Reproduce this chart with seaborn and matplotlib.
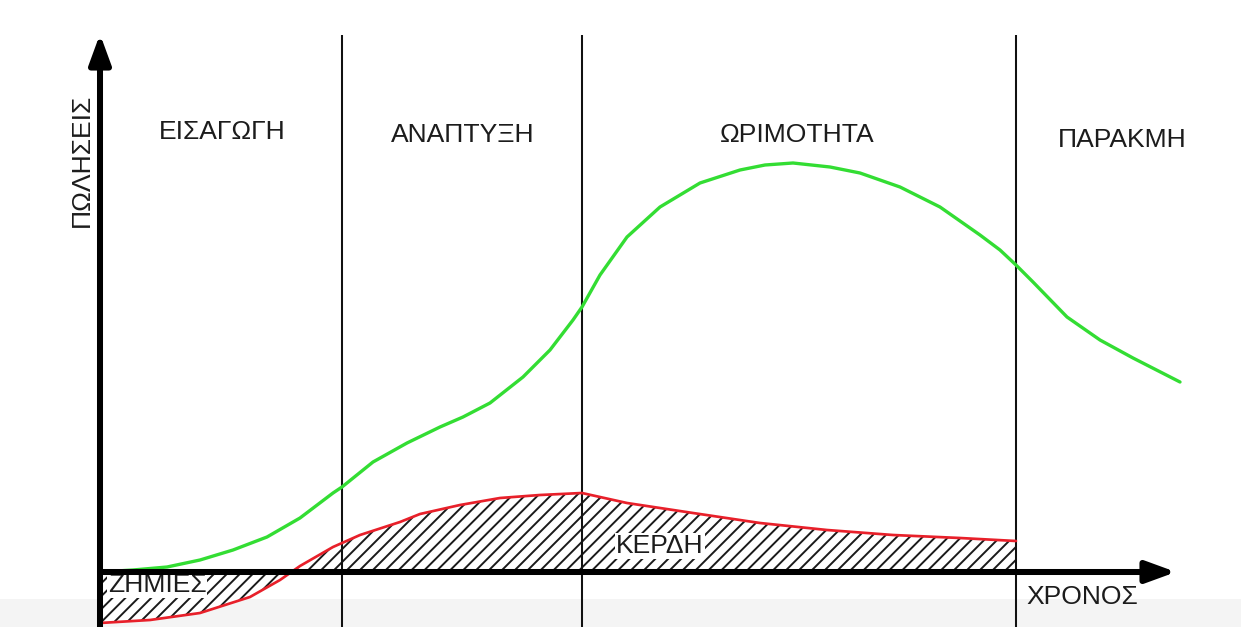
import numpy as np
import pandas as pd
import matplotlib
matplotlib.use("Agg")
import matplotlib.pyplot as plt
import seaborn as sns

# ---- data (time units, arbitrary sales/profit units) ----
time_sales = [0.0, 0.33, 0.67, 1.0, 1.33, 1.67, 2.0, 2.33, 2.42, 2.73, 3.07, 3.40,
              3.63, 3.90, 4.23, 4.50, 4.73, 4.82, 5.0, 5.27, 5.6, 6.0, 6.4, 6.65,
              6.93, 7.3, 7.6, 8.0, 8.4, 8.8, 9.0, 9.16, 9.33, 9.67, 10.0, 10.33, 10.8]
sales = [0.0, 0.02, 0.05, 0.12, 0.22, 0.35, 0.54, 0.79, 0.85, 1.10, 1.29, 1.45,
         1.55, 1.69, 1.95, 2.22, 2.52, 2.65, 2.97, 3.35, 3.65, 3.89, 4.02, 4.07,
         4.09, 4.05, 3.99, 3.85, 3.65, 3.37, 3.22, 3.07, 2.90, 2.55, 2.32, 2.14, 1.90]

time_profit = [0.0, 0.5, 1.0, 1.5, 1.8, 2.0, 2.33, 2.6, 3.0, 3.2, 3.6, 4.0, 4.4,
               4.82, 5.27, 5.93, 6.6, 7.27, 7.93, 8.6, 9.16]
profit = [-0.51, -0.48, -0.41, -0.25, -0.08, 0.06, 0.25, 0.37, 0.50, 0.58, 0.67, 0.74, 0.77,
          0.79, 0.69, 0.59, 0.49, 0.42, 0.37, 0.34, 0.31]

phase_names = ["ΕΙΣΑΓΩΓΗ", "ΑΝΑΠΤΥΞΗ", "ΩΡΙΜΟΤΗΤΑ", "ΠΑΡΑΚΜΗ"]
phase_bounds = [2.42, 4.82, 9.16]
phase_label_x = [1.22, 3.63, 6.97, 10.22]
phase_label_y = [4.40, 4.37, 4.37, 4.32]

y_label = "ΠΩΛΗΣΕΙΣ"
x_label = "ΧΡΟΝΟΣ"
profit_label = "ΚΕΡΔΗ"
loss_label = "ΖΗΜΙΕΣ"

# ---- style ----
sns.set_theme(style="white")
plt.rcParams["font.family"] = ["Liberation Sans", "DejaVu Sans"]
plt.rcParams["hatch.linewidth"] = 0.9

DPI = 155
fig = plt.figure(figsize=(1241 / DPI, 627 / DPI), dpi=DPI)
ax = fig.add_axes([0, 0, 1, 1])

# faint grey strip at the bottom (screenshot artefact)
ax.axhspan(-0.55, -0.27, color="#f4f4f4", zorder=0, lw=0)

df_s = pd.DataFrame({"t": time_sales, "v": sales})
df_p = pd.DataFrame({"t": time_profit, "v": profit})

# hatched profit / loss area
ax.fill_between(df_p["t"], df_p["v"], 0, facecolor="white", edgecolor="#1a1a1a",
                hatch="////", linewidth=0, zorder=1)

# phase dividers
ax.vlines(phase_bounds, -0.55, 5.37, color="#111111", lw=0.95, zorder=2)

# curves
sns.lineplot(data=df_p, x="t", y="v", ax=ax, color="#e8202a", lw=1.25, zorder=4,
             legend=False, solid_joinstyle="round", solid_capstyle="round")
sns.lineplot(data=df_s, x="t", y="v", ax=ax, color="#33dd33", lw=1.55, zorder=4,
             legend=False, solid_joinstyle="round", solid_capstyle="round")
ax.axis("off")
ax.set_xlim(-1.0, 11.41)
ax.set_ylim(-0.55, 5.72)

# axes arrows
arrow = dict(arrowstyle="-|>,head_length=1.15,head_width=0.42", lw=2.8,
             color="black", shrinkA=0, shrinkB=0, mutation_scale=10)
ax.annotate("", xy=(0, 5.38), xytext=(0, -0.56), arrowprops=arrow, zorder=6)
ax.annotate("", xy=(10.76, 0), xytext=(0, 0), arrowprops=arrow, zorder=6)

fs = 12.3
tc = "#1c1c1c"
for name, x, y in zip(phase_names, phase_label_x, phase_label_y):
    ax.text(x, y, name, ha="center", va="center", fontsize=fs, color=tc, zorder=5)

ax.text(-0.18, 4.12, y_label, rotation=90, ha="center", va="center", fontsize=fs,
        color=tc, zorder=5)
ax.text(9.82, -0.25, x_label, ha="center", va="center", fontsize=fs,
        color=tc, zorder=5)
ax.text(5.6, 0.26, profit_label, ha="center", va="center", fontsize=fs, color=tc,
        zorder=5, bbox=dict(facecolor="white", edgecolor="none", pad=0.5))
ax.text(0.57, -0.13, loss_label, ha="center", va="center", fontsize=fs, color=tc,
        zorder=5, bbox=dict(facecolor="white", edgecolor="none", pad=0.5))

fig.savefig("out.png", dpi=DPI)
